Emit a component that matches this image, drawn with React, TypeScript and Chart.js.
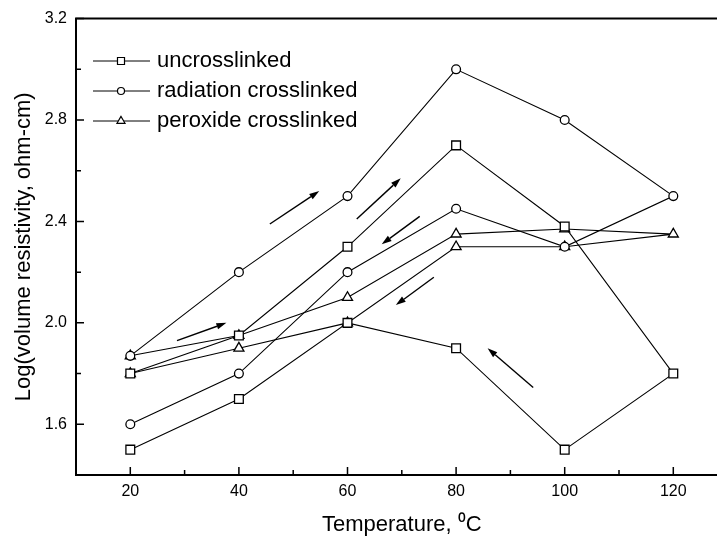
import React, { useEffect, useRef } from 'react';
import { Chart, registerables } from 'chart.js';

Chart.register(...registerables);

// Measurement order: heating 20 -> 120 °C, then cooling 120 -> 20 °C
const temperatures = [20, 40, 60, 80, 100, 120, 100, 80, 60, 40, 20];
const uncrosslinked = [1.5, 1.7, 2.0, 1.9, 1.5, 1.8, 2.38, 2.7, 2.3, 1.95, 1.8];
const radiationCrosslinked = [1.6, 1.8, 2.2, 2.45, 2.3, 2.5, 2.8, 3.0, 2.5, 2.2, 1.87];
const peroxideCrosslinked = [1.8, 1.9, 2.0, 2.3, 2.3, 2.35, 2.37, 2.35, 2.1, 1.95, 1.87];

const seriesLabels = ['uncrosslinked', 'radiation crosslinked', 'peroxide crosslinked'];
const seriesMarkers = ['rect', 'circle', 'triangle'];

const xTickValues = [20, 40, 60, 80, 100, 120];
const xMinorTickValues = [30, 50, 70, 90, 110];
const yTickValues = [1.6, 2.0, 2.4, 2.8, 3.2];
const yMinorTickValues = [1.8, 2.2, 2.6, 3.0];

// direction arrows (data units): start -> end, head at end
const arrowStarts = [
  [45.7, 2.39],
  [61.7, 2.41],
  [73.3, 2.42],
  [75.9, 2.18],
  [94.2, 1.745],
  [28.6, 1.93],
];
const arrowEnds = [
  [54.8, 2.52],
  [69.8, 2.57],
  [66.3, 2.31],
  [68.9, 2.07],
  [85.8, 1.9],
  [37.7, 2.0],
];

const FONT = "'Liberation Sans', Arial, Helvetica, sans-serif";
const CANVAS_W = 740;
const CANVAS_H = 537;
const MARKER_RADII = [6.2, 4.4, 5.8];

function drawMarker(ctx: CanvasRenderingContext2D, style: string, x: number, y: number, r: number) {
  ctx.beginPath();
  if (style === 'rect') {
    const s = Math.SQRT1_2 * r;
    ctx.rect(x - s, y - s, 2 * s, 2 * s);
  } else if (style === 'circle') {
    ctx.arc(x, y, r, 0, Math.PI * 2);
  } else {
    ctx.moveTo(x, y - r);
    ctx.lineTo(x - Math.sin(Math.PI / 3) * r, y + r / 2);
    ctx.lineTo(x + Math.sin(Math.PI / 3) * r, y + r / 2);
    ctx.closePath();
  }
  ctx.fillStyle = '#fff';
  ctx.fill();
  ctx.stroke();
}

const framePlugin = {
  id: 'framePlugin',
  afterDraw(chart: any) {
    const { ctx, chartArea, scales } = chart;
    const xs = scales.x;
    const ys = scales.y;
    const { left, right, top, bottom } = chartArea;
    ctx.save();
    ctx.strokeStyle = '#000';
    ctx.lineWidth = 2;
    ctx.beginPath();
    ctx.moveTo(left, top);
    ctx.lineTo(right, top);
    ctx.lineTo(right, bottom);
    ctx.lineTo(left, bottom);
    ctx.closePath();
    ctx.stroke();

    // ticks (inward)
    ctx.lineWidth = 1.5;
    ctx.beginPath();
    xTickValues.forEach((v) => {
      const px = xs.getPixelForValue(v);
      ctx.moveTo(px, bottom);
      ctx.lineTo(px, bottom - 8);
    });
    xMinorTickValues.forEach((v) => {
      const px = xs.getPixelForValue(v);
      ctx.moveTo(px, bottom);
      ctx.lineTo(px, bottom - 5);
    });
    yTickValues.forEach((v) => {
      const py = ys.getPixelForValue(v);
      ctx.moveTo(left, py);
      ctx.lineTo(left + 8, py);
    });
    yMinorTickValues.forEach((v) => {
      const py = ys.getPixelForValue(v);
      ctx.moveTo(left, py);
      ctx.lineTo(left + 5, py);
    });
    ctx.stroke();

    // arrows
    ctx.fillStyle = '#000';
    ctx.lineWidth = 1.4;
    arrowStarts.forEach((s, i) => {
      const e = arrowEnds[i];
      const x0 = xs.getPixelForValue(s[0]);
      const y0 = ys.getPixelForValue(s[1]);
      const x1 = xs.getPixelForValue(e[0]);
      const y1 = ys.getPixelForValue(e[1]);
      const ang = Math.atan2(y1 - y0, x1 - x0);
      const hl = 10;
      const hw = 3.2;
      const bx = x1 - Math.cos(ang) * hl;
      const by = y1 - Math.sin(ang) * hl;
      ctx.beginPath();
      ctx.moveTo(x0, y0);
      ctx.lineTo(bx, by);
      ctx.stroke();
      ctx.beginPath();
      ctx.moveTo(x1, y1);
      ctx.lineTo(bx - Math.sin(ang) * hw, by + Math.cos(ang) * hw);
      ctx.lineTo(bx + Math.sin(ang) * hw, by - Math.cos(ang) * hw);
      ctx.closePath();
      ctx.fill();
    });

    // legend
    const legendX0 = 93;
    const legendX1 = 150;
    const legendMarkerX = 121;
    const legendTextX = 157;
    const legendY0 = 61;
    const legendGap = 30;
    seriesLabels.forEach((label, i) => {
      const y = legendY0 + i * legendGap;
      ctx.strokeStyle = '#000';
      ctx.lineWidth = 1;
      ctx.beginPath();
      ctx.moveTo(legendX0, y);
      ctx.lineTo(legendX1, y);
      ctx.stroke();
      ctx.lineWidth = 1.2;
      drawMarker(ctx, seriesMarkers[i], legendMarkerX, y, MARKER_RADII[i] * 0.8);
      ctx.fillStyle = '#000';
      ctx.font = `22px ${FONT}`;
      ctx.textAlign = 'left';
      ctx.textBaseline = 'middle';
      ctx.fillText(label, legendTextX, y);
    });
    ctx.restore();
  },
};

export default function App() {
  const canvasRef = useRef<HTMLCanvasElement | null>(null);

  useEffect(() => {
    const canvas = canvasRef.current;
    if (!canvas) return;
    document.body.style.margin = '0';
    const mk = (vals: number[]) => temperatures.map((t, i) => ({ x: t, y: vals[i] }));
    const seriesValues = [uncrosslinked, radiationCrosslinked, peroxideCrosslinked];
    const chart = new Chart(canvas, {
      type: 'scatter',
      data: {
        datasets: seriesValues.map((vals, i) => ({
          label: seriesLabels[i],
          data: mk(vals),
          showLine: true,
          borderColor: '#000',
          borderWidth: 1.1,
          pointStyle: seriesMarkers[i] as any,
          pointRadius: MARKER_RADII[i],
          pointBackgroundColor: '#fff',
          pointBorderColor: '#000',
          pointBorderWidth: 1.3,
          tension: 0,
        })),
      },
      options: {
        animation: false,
        responsive: false,
        devicePixelRatio: 1,
        layout: { padding: { top: 18, right: CANVAS_W - 727.6, left: 0, bottom: 0 } },
        plugins: {
          legend: { display: false },
          tooltip: { enabled: false },
        },
        scales: {
          x: {
            type: 'linear',
            min: 10,
            max: 130,
            grid: { display: false, drawTicks: false },
            border: { display: false },
            afterBuildTicks: (scale: any) => {
              scale.ticks = xTickValues.map((v) => ({ value: v }));
            },
            afterFit: (scale: any) => {
              scale.height = CANVAS_H - 475;
            },
            ticks: {
              color: '#000',
              padding: 7,
              maxRotation: 0,
              autoSkip: false,
              font: { family: FONT, size: 16 },
              callback: (v: any) => String(v),
            },
            title: {
              display: true,
              text: 'Temperature, \u2070C',
              color: '#000',
              font: { family: FONT, size: 22, lineHeight: 1 },
              padding: { top: 0, bottom: 1 },
            },
          },
          y: {
            type: 'linear',
            min: 1.4,
            max: 3.2,
            grid: { display: false, drawTicks: false },
            border: { display: false },
            afterBuildTicks: (scale: any) => {
              scale.ticks = yTickValues.map((v) => ({ value: v }));
            },
            afterFit: (scale: any) => {
              scale.width = 76;
            },
            ticks: {
              color: '#000',
              padding: 9,
              autoSkip: false,
              font: { family: FONT, size: 16 },
              callback: (v: any) => Number(v).toFixed(1),
            },
            title: {
              display: true,
              text: 'Log(volume resistivity, ohm-cm)',
              color: '#000',
              font: { family: FONT, size: 22, lineHeight: 1 },
              padding: { top: 13, bottom: 0 },
            },
          },
        },
      },
      plugins: [framePlugin],
    });
    return () => chart.destroy();
  }, []);

  return (
    <div
      style={{
        position: 'absolute',
        left: 0,
        top: 0,
        width: 717,
        height: 537,
        overflow: 'hidden',
        background: '#fff',
      }}
    >
      <canvas
        ref={canvasRef}
        width={CANVAS_W}
        height={CANVAS_H}
        style={{ width: CANVAS_W, height: CANVAS_H, display: 'block' }}
      />
    </div>
  );
}
